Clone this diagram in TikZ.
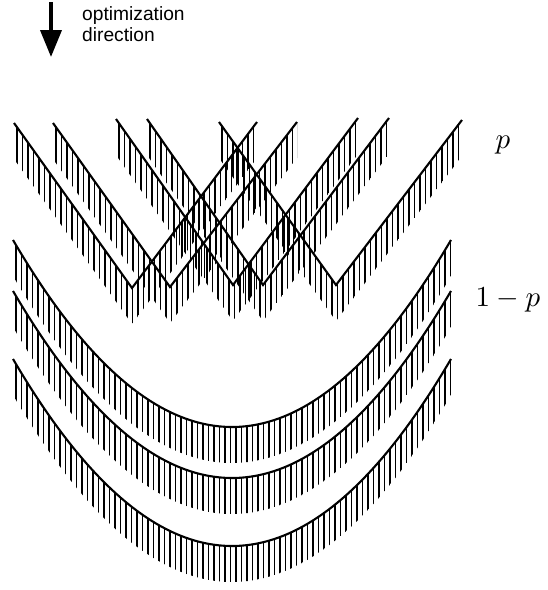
\documentclass[tikz,border=0pt]{standalone}
\usepackage[no-math]{fontspec}
\newfontfamily\labelfont{Liberation Sans}
\usetikzlibrary{arrows.meta}

\begin{document}
\begin{tikzpicture}[x=1pt, y=-1pt,
  ridge/.style={line width=2.1pt, line join=miter},
  hatchline/.style={line width=1.15pt},
  problabel/.style={anchor=base, scale=2.9},
  >={Triangle[length=27pt,width=21pt]}]
  \useasboundingbox (0,0) rectangle (548,590);

  %% Direction arrow
  \coordinate (arrtop) at (51,2);
  \coordinate (arrtip) at (51,57);
  \draw[->, line width=3.8pt] (arrtop) -- (arrtip);
  \node[anchor=north west, inner sep=0pt, align=left,
    font=\labelfont\fontsize{19.2}{21}\selectfont] (optlabel) at (82,6)
    {optimization\\direction};

  %% V-shaped ridges (probability p)
  %% left top / bottom / right top
  \foreach \xl/\yl/\xb/\yb/\xr/\yr in {14/123/132/288/257/122,
      53/123/170/287/297/122, 116/119/233/285/358/118,
      147/119/263/285/389/118, 219/122/336/285/462/120}{
    \begin{scope}
      \clip (\xl,\yl) -- (\xb,\yb) -- (\xr,\yr) -- (\xr,\yr+36)
        -- (\xb,\yb+36) -- (\xl,\yl+36) -- cycle;
      \foreach \hx in {0,5.5,...,250}
        \draw[hatchline] (\xl+3+\hx,100) -- (\xl+3+\hx,340);
    \end{scope}
    \draw[ridge] (\xl,\yl) -- (\xb,\yb) -- (\xr,\yr);
  }

  %% Parabolic ridges (probability 1-p)
  \foreach \yb in {427,478,546}{
    \begin{scope}
      \clip plot[domain=13:451, samples=90]
          (\x,{\yb-187*((\x-232)/219)*((\x-232)/219)})
        -- plot[domain=451:13, samples=90]
          (\x,{\yb+36-187*((\x-232)/219)*((\x-232)/219)}) -- cycle;
      \foreach \hx in {16,21.5,...,452}
        \draw[hatchline] (\hx,200) -- (\hx,590);
    \end{scope}
    \draw[ridge, line join=round] plot[domain=13:451, samples=90]
      (\x,{\yb-187*((\x-232)/219)*((\x-232)/219)});
  }

  %% Probability labels
  \node[problabel] (plabel) at (503,148) {$p$};
  \node[problabel] (qlabel) at (508,306) {$1-p$};
\end{tikzpicture}
\end{document}
